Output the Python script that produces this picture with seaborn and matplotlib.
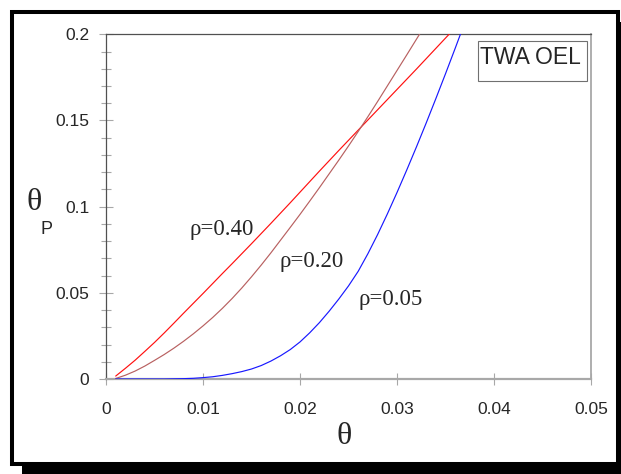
import matplotlib
matplotlib.use("Agg")
import matplotlib.pyplot as plt
from matplotlib.patches import Rectangle
from matplotlib.ticker import MultipleLocator
import pandas as pd
import seaborn as sns

# Occupational exposure curves: theta_P as a function of theta for three rho values
theta = [0.001, 0.002, 0.003, 0.004, 0.005, 0.006, 0.007, 0.008, 0.009, 0.010,
         0.011, 0.012, 0.013, 0.014, 0.015, 0.016, 0.017, 0.018, 0.019, 0.020,
         0.021, 0.022, 0.023, 0.024, 0.025, 0.026, 0.027, 0.028, 0.029, 0.030,
         0.031, 0.032, 0.033, 0.034, 0.035, 0.036, 0.037]

thetaP_r40 = [0.0017, 0.0062, 0.0109, 0.0160, 0.0212, 0.0267, 0.0324, 0.0382, 0.0439, 0.0496,
              0.0554, 0.0612, 0.0669, 0.0727, 0.0785, 0.0844, 0.0903, 0.0963, 0.1023, 0.1084,
              0.1145, 0.1206, 0.1266, 0.1326, 0.1385, 0.1444, 0.1503, 0.1562, 0.1621, 0.1680,
              0.1739, 0.1798, 0.1858, 0.1918, 0.1978, 0.2038, 0.2098]

thetaP_r20 = [0.0003, 0.0022, 0.0046, 0.0075, 0.0108, 0.0142, 0.0179, 0.0219, 0.0262, 0.0308,
              0.0357, 0.0410, 0.0467, 0.0528, 0.0593, 0.0661, 0.0732, 0.0806, 0.0880, 0.0955,
              0.1032, 0.1110, 0.1190, 0.1270, 0.1352, 0.1436, 0.1522, 0.1610, 0.1700, 0.1790,
              0.1880, 0.1971, 0.2062, 0.2153, 0.2244, 0.2335, 0.2426]

thetaP_r05 = [0.0, 0.0, 0.0, 0.0, 0.0, 0.0, 0.0001, 0.0002, 0.0004, 0.0008,
              0.0013, 0.0021, 0.0031, 0.0043, 0.0058, 0.0078, 0.0104, 0.0135, 0.0171, 0.0215,
              0.0268, 0.0327, 0.0393, 0.0464, 0.0540, 0.0625, 0.0727, 0.0838, 0.0957, 0.1082,
              0.1212, 0.1346, 0.1484, 0.1626, 0.1771, 0.1919, 0.2070]

series_names = ["ρ=0.40", "ρ=0.20", "ρ=0.05"]
series_colors = ["#ff1010", "#b86060", "#1818ff"]

xticks = [0, 0.01, 0.02, 0.03, 0.04, 0.05]
xtick_labels = ["0", "0.01", "0.02", "0.03", "0.04", "0.05"]
yticks = [0, 0.05, 0.1, 0.15, 0.2]
ytick_labels = ["0", "0.05", "0.1", "0.15", "0.2"]

frames = []
for name, tp in zip(series_names, [thetaP_r40, thetaP_r20, thetaP_r05]):
    frames.append(pd.DataFrame({"theta": theta, "thetaP": tp, "rho": name}))
df = pd.concat(frames, ignore_index=True)

sns.set_style("white")

W, H = 621, 474
fig = plt.figure(figsize=(W / 100, H / 100), dpi=100)
fig.patch.set_facecolor("white")


def fx(px):
    return px / W


def fy(py):
    return 1 - py / H


# drop shadow and framed panel
fig.patches.append(Rectangle((fx(22), fy(482)), fx(640) - fx(22), fy(22) - fy(482),
                             transform=fig.transFigure, facecolor="black",
                             edgecolor="none", zorder=-3))
fig.patches.append(Rectangle((fx(12), fy(463.5)), fx(618) - fx(12), fy(12) - fy(463.5),
                             transform=fig.transFigure, facecolor="white",
                             edgecolor="black", linewidth=2.9, zorder=-2))

ax = fig.add_axes([fx(106), fy(379), fx(591) - fx(106), fy(34.3) - fy(379)])
ax.set_facecolor("white")

sns.lineplot(data=df, x="theta", y="thetaP", hue="rho", palette=series_colors,
             hue_order=series_names, sort=False, estimator=None, linewidth=0.85,
             legend=False, ax=ax, zorder=3)

ax.set_xlim(0, 0.05)
ax.set_ylim(0, 0.2)
ax.set_xticks(xticks)
ax.set_xticklabels(xtick_labels)
ax.set_yticks(yticks)
ax.set_yticklabels(ytick_labels)
ax.yaxis.set_minor_locator(MultipleLocator(0.01))
ax.set_xlabel("")
ax.set_ylabel("")

for lab in ax.get_xticklabels() + ax.get_yticklabels():
    lab.set_fontfamily("Liberation Sans")
    lab.set_fontsize(12.5)

ax.tick_params(axis="y", which="major", direction="inout", length=10, width=0.8,
               color="#a8a8a8", pad=7, left=True)
ax.tick_params(axis="y", which="minor", direction="inout", length=6.5, width=0.8,
               color="#a8a8a8", left=True)
ax.tick_params(axis="x", which="major", direction="inout", length=8.6, width=0.8,
               color="#a8a8a8", pad=12.5, bottom=True)

ax.spines["left"].set_color("#505050")
ax.spines["left"].set_linewidth(0.9)
ax.spines["top"].set_color("#505050")
ax.spines["top"].set_linewidth(0.9)
ax.spines["bottom"].set_color("#a8a8a8")
ax.spines["bottom"].set_linewidth(1.6)
ax.spines["right"].set_color("#a8a8a8")
ax.spines["right"].set_linewidth(1.3)

# curve labels
serif = "Liberation Serif"
for text, (px, py) in zip(series_names, [(222, 229), (312, 261), (391, 299)]):
    ax.annotate(text, xy=(fx(px), fy(py)), xycoords="figure fraction",
                ha="center", va="center", fontsize=16.5, family=serif)

# axis titles
fig.text(fx(344), fy(437), "θ", ha="center", va="center", fontsize=23, family=serif)
fig.text(fx(34.5), fy(202), "θ", ha="center", va="center", fontsize=23, family=serif)
fig.text(fx(47), fy(229), "P", ha="center", va="center", fontsize=13,
         family="Liberation Sans")

# boxed annotation
ax.add_patch(Rectangle((fx(478), fy(81)), fx(587) - fx(478), fy(41) - fy(81),
                       transform=fig.transFigure, facecolor="white",
                       edgecolor="#707070", linewidth=0.8, zorder=5, clip_on=False))
fig.text(fx(479.5), fy(58), "TWA OEL", ha="left", va="center", fontsize=16.5,
         family="Liberation Sans", zorder=6)

fig.savefig("out.png", dpi=100, facecolor="white")
